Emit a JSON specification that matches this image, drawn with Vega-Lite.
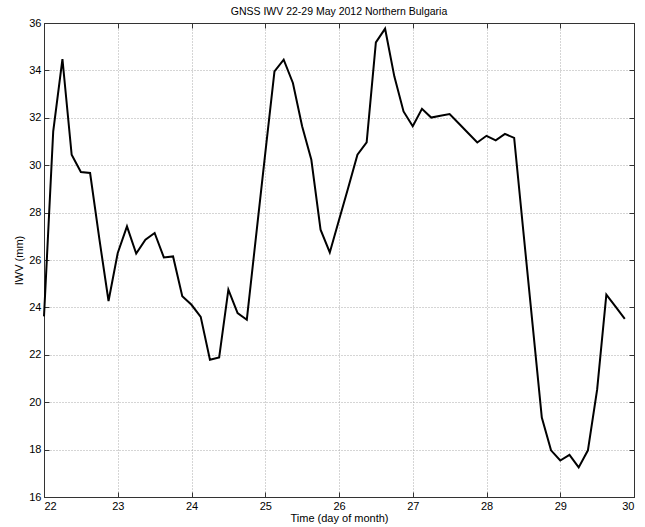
{
  "$schema": "https://vega.github.io/schema/vega-lite/v6.json",
  "width": 590,
  "height": 474,
  "autosize": "none",
  "padding": {"left": 44, "top": 23, "right": 11, "bottom": 30},
  "background": "white",
  "title": {"text": "GNSS IWV 22-29 May 2012 Northern Bulgaria", "font": "Liberation Sans", "fontSize": 10.5, "fontWeight": "normal", "color": "black", "offset": 0},
  "config": {
    "view": {"stroke": "#333", "strokeWidth": 1},
    "axis": {"labelFont": "Liberation Sans", "titleFont": "Liberation Sans", "labelFontSize": 11, "titleFontSize": 11, "titleFontWeight": "normal", "labelColor": "black", "titleColor": "black", "domainColor": "#333", "tickColor": "#333", "gridColor": "#aaa", "gridDash": [1, 2], "gridWidth": 1}
  },
  "data": {"values": [
    {"t": 22.0, "v": 23.62}, {"t": 22.125, "v": 31.43}, {"t": 22.25, "v": 34.48}, {"t": 22.375, "v": 30.44},
    {"t": 22.5, "v": 29.71}, {"t": 22.625, "v": 29.67}, {"t": 22.75, "v": 26.9}, {"t": 22.875, "v": 24.27},
    {"t": 23.0, "v": 26.3}, {"t": 23.125, "v": 27.42}, {"t": 23.25, "v": 26.27}, {"t": 23.375, "v": 26.86},
    {"t": 23.5, "v": 27.14}, {"t": 23.625, "v": 26.11}, {"t": 23.75, "v": 26.15}, {"t": 23.875, "v": 24.47},
    {"t": 24.0, "v": 24.11}, {"t": 24.125, "v": 23.6}, {"t": 24.25, "v": 21.79}, {"t": 24.375, "v": 21.89},
    {"t": 24.5, "v": 24.75}, {"t": 24.625, "v": 23.76}, {"t": 24.75, "v": 23.48}, {"t": 24.875, "v": 27.0},
    {"t": 25.0, "v": 30.5}, {"t": 25.125, "v": 33.96}, {"t": 25.25, "v": 34.45}, {"t": 25.375, "v": 33.47},
    {"t": 25.5, "v": 31.64}, {"t": 25.625, "v": 30.23}, {"t": 25.75, "v": 27.28}, {"t": 25.875, "v": 26.32},
    {"t": 26.0, "v": 27.69}, {"t": 26.125, "v": 29.05}, {"t": 26.25, "v": 30.44}, {"t": 26.375, "v": 30.96},
    {"t": 26.5, "v": 35.18}, {"t": 26.625, "v": 35.76}, {"t": 26.75, "v": 33.75}, {"t": 26.875, "v": 32.27},
    {"t": 27.0, "v": 31.64}, {"t": 27.125, "v": 32.38}, {"t": 27.25, "v": 32.01}, {"t": 27.375, "v": 32.09},
    {"t": 27.5, "v": 32.16}, {"t": 27.625, "v": 31.76}, {"t": 27.75, "v": 31.36}, {"t": 27.875, "v": 30.96},
    {"t": 28.0, "v": 31.24}, {"t": 28.125, "v": 31.05}, {"t": 28.25, "v": 31.32}, {"t": 28.375, "v": 31.15},
    {"t": 28.5, "v": 27.2}, {"t": 28.625, "v": 23.27}, {"t": 28.75, "v": 19.35}, {"t": 28.875, "v": 17.97},
    {"t": 29.0, "v": 17.54}, {"t": 29.125, "v": 17.78}, {"t": 29.25, "v": 17.25}, {"t": 29.375, "v": 17.97},
    {"t": 29.5, "v": 20.53}, {"t": 29.625, "v": 24.54}, {"t": 29.75, "v": 24.03}, {"t": 29.875, "v": 23.52}
  ]},
  "layer": [
    {
      "mark": {"type": "line", "color": "black", "strokeWidth": 2},
      "encoding": {
        "x": {"field": "t", "type": "quantitative", "scale": {"domain": [22, 30], "nice": false, "zero": false},
              "axis": {"title": "Time (day of month)", "values": [22, 23, 24, 25, 26, 27, 28, 29, 30], "tickSize": -5, "labelPadding": 8, "titleY": 15, "titleBaseline": "top"}},
        "y": {"field": "v", "type": "quantitative", "scale": {"domain": [16, 36], "nice": false, "zero": false},
              "axis": {"title": "IWV (mm)", "values": [16, 18, 20, 22, 24, 26, 28, 30, 32, 34, 36], "tickSize": -5, "labelPadding": 8, "titlePadding": 4}}
      }
    },
    {
      "mark": {"type": "line", "opacity": 0},
      "encoding": {
        "x": {"field": "t", "type": "quantitative", "scale": {"domain": [22, 30], "nice": false, "zero": false},
              "axis": {"orient": "top", "title": null, "labels": false, "grid": false, "values": [22, 23, 24, 25, 26, 27, 28, 29, 30], "tickSize": -5}},
        "y": {"field": "v", "type": "quantitative", "scale": {"domain": [16, 36], "nice": false, "zero": false},
              "axis": {"orient": "right", "title": null, "labels": false, "grid": false, "values": [16, 18, 20, 22, 24, 26, 28, 30, 32, 34, 36], "tickSize": -5}}
      }
    }
  ],
  "resolve": {"axis": {"x": "independent", "y": "independent"}}
}
